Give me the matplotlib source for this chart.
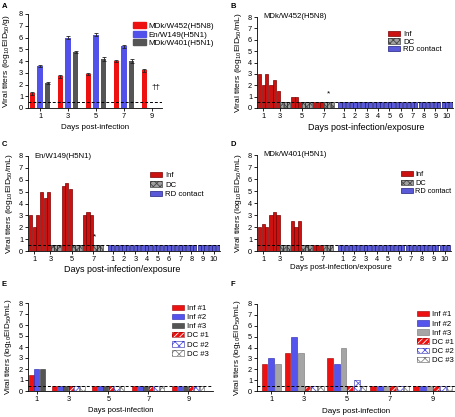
import matplotlib
matplotlib.use('Agg')
import matplotlib.pyplot as plt
import numpy as np
from matplotlib.patches import Patch

plt.rcParams['font.family'] = ['Liberation Sans', 'DejaVu Sans']
plt.rcParams['mathtext.fontset'] = 'custom'
plt.rcParams['mathtext.rm'] = 'Liberation Sans'
plt.rcParams['mathtext.it'] = 'Liberation Sans:italic'
plt.rcParams['mathtext.bf'] = 'Liberation Sans:bold'
plt.rcParams['mathtext.default'] = 'regular'
plt.rcParams['hatch.linewidth'] = 0.6
plt.rcParams['axes.linewidth'] = 0.6

# ---------------- data ----------------
# Panel A
days_a = [1, 3, 5, 7, 9]
strains_a = ['MDk/W452(H5N8)', 'En/W149(H5N1)', 'MDk/W401(H5N1)']
titer_w452 = [1.25, 2.7, 2.9, 4.0, 3.2]
err_w452 = [0.12, 0.15, 0.08, 0.1, 0.15]
titer_w149 = [3.6, 6.0, 6.25, 5.25, np.nan]
err_w149 = [0.08, 0.15, 0.15, 0.15, np.nan]
titer_w401 = [2.15, 4.8, 4.15, 4.0, np.nan]
err_w401 = [0.08, 0.08, 0.15, 0.15, np.nan]

# Panels B-D: infected (days 1,3,5,7), direct contact (days 3,5,7), RD contact (days 1-10)
inf_days = ['1', '3', '5', '7']
rd_days = ['1', '2', '3', '4', '5', '6', '7', '8', '9', '10']

b_inf = [[3.0, 2.0, 3.0], [2.0, 2.5, 1.5], [1.0, 1.0, 0.5], [0.5, 0.5, 0.5]]
b_dc = [[0.5, 0.5, 0.5], [0.5, 0.5, 0.5], [0.5, 0.5, 0.5]]
b_rd = [[0.5, 0.5, 0.5]] * 10

c_inf = [[3.0, 2.0, 3.0], [5.0, 4.5, 5.0], [5.5, 5.75, 5.25], [3.0, 3.25, 3.0]]
c_dc = [[0.5, 0.5, 0.5], [0.5, 0.5, 0.5], [0.5, 0.5, 0.5]]
c_rd = [[0.5, 0.5, 0.5]] * 10

d_inf = [[2.0, 2.25, 2.0], [3.0, 3.25, 3.0], [2.5, 2.0, 2.5], [0.5, 0.5, 0.5]]
d_dc = [[0.5, 0.5, 0.5], [0.5, 0.5, 0.5], [0.5, 0.5, 0.5]]
d_rd = [[0.5, 0.5, 0.5]] * 10

# Panels E-F: individual birds, days 1,3,5,7,9
days_ef = ['1', '3', '5', '7', '9']
e_inf1 = [1.5, 0.5, 0.5, 0.5, 0.5]
e_inf2 = [2.0, 0.5, 0.5, 0.5, 0.5]
e_inf3 = [2.0, 0.5, 0.5, 0.5, 0.5]
e_dc1 = [0.5, 0.5, 0.5, 0.5]
e_dc2 = [0.5, 0.5, 0.5, 0.5]
e_dc3 = [0.5, 0.5, 0.5, 0.5]

f_inf1 = [2.5, 3.5, 3.0, 0.5, 0.5]
f_inf2 = [3.0, 5.0, 2.5, 0.5, 0.5]
f_inf3 = [2.5, 3.5, 4.0, 0.5, 0.5]
f_dc1 = [0.5, 0.5, 0.5, 0.5]
f_dc2 = [0.5, 1.0, 0.5, 0.5]
f_dc3 = [0.5, 0.5, 0.5, 0.5]

detect_limit = 0.5

# ---------------- figure ----------------
W, H = 456, 417
fig = plt.figure(figsize=(W / 100, H / 100), dpi=100)

TFS = 5.3


def ax_px(l, r, t, b):
    return fig.add_axes([l / W, 1 - b / H, (r - l) / W, (b - t) / H])


def style(ax, l, r, t, b, ylabel, xlabel, ylab_x, xlab_top, yfs, xfs, xlab_cx=None):
    for s in ['top', 'right']:
        ax.spines[s].set_visible(False)
    ax.set_ylim(0, 8)
    ax.set_yticks(range(0, 9))
    ax.tick_params(length=2, width=0.6, labelsize=TFS, pad=1.5)
    ax.set_ylabel(ylabel, fontsize=yfs)
    ax.set_xlabel(xlabel, fontsize=xfs)
    ax.yaxis.set_label_coords((ylab_x - l) / (r - l), 0.5)
    cx = 0.5 if xlab_cx is None else (xlab_cx - l) / (r - l)
    ax.xaxis.set_label_coords(cx, -(xlab_top - b) / (b - t))
    ax.axhline(detect_limit, color='black', lw=0.7, ls=(0, (3, 2)), zorder=5)


def panel_label(x, y, s):
    fig.text(x / W, 1 - y / H, s, fontsize=5.5, fontweight='bold', va='center', ha='left')


def legend_at(ax, l, r, t, b, xy, handles, labels, fs, ls):
    ax.legend(handles, labels, loc='upper left',
              bbox_to_anchor=((xy[0] - l) / (r - l), 1 - (xy[1] - t) / (b - t)),
              fontsize=fs, frameon=False, handlelength=1.6, handleheight=0.7,
              handletextpad=0.35, borderaxespad=0, borderpad=0, labelspacing=ls)


ylab_g = r'Viral titers (log$_{10}$EID$_{50}$/g)'
ylab_ml = r'Viral titers (log$_{10}$EID$_{50}$/mL)'

# ---------- Panel A ----------
l, r, t, b = 28, 162, 14, 108
axA = ax_px(l, r, t, b)
x = np.array(days_a, dtype=float)
off = 0.54
bw = 0.4
ekw = dict(elinewidth=0.6, capsize=1.2, capthick=0.6, ecolor='#222222')
axA.bar(x - off, titer_w452, bw, yerr=err_w452, color='#ee1111', error_kw=ekw)
axA.bar(x, titer_w149, bw, yerr=err_w149, color='#5252ea', error_kw=ekw)
axA.bar(x + off, titer_w401, bw, yerr=err_w401, color='#555555', error_kw=ekw)
axA.set_xlim(1 - 12 / 14, 1 + 122 / 14)
axA.set_xticks(days_a)
axA.set_xticklabels([str(d) for d in days_a])
style(axA, l, r, t, b, ylab_g, 'Days post-infection', ylab_x=12.5, xlab_top=124, yfs=6.1, xfs=5.8)
axA.text(9.28, 1.45, '\u2020\u2020', fontsize=6, ha='center', va='bottom')
legend_at(axA, l, r, t, b, (133, 22.5),
          [Patch(color='#ee1111'), Patch(color='#5252ea'), Patch(color='#555555')],
          strains_a, 5.8, 0.1)
panel_label(2, 6, 'A')

# ---------- Panels B-D ----------
RED_I = '#cc1111'
RED_E = '#7a0000'
GRAY_F = '#a0a0a0'
GRAY_H = '#444444'
BLUE_F = '#5a5ad8'
BLUE_E = '#1e1e80'


def bar_dc(ax, xs, hs, w):
    ax.bar(xs, hs, w, color=GRAY_F, edgecolor=GRAY_H, hatch='xxxxx', linewidth=0)
    ax.bar(xs, hs, w, fill=False, edgecolor='#333333', linewidth=0.5)


def panel_bcd(l, r, t, b, inf, dc, rd, title, star_y=None, star_dx=0.0, g=0.2, gap_rd=1.2,
              g_rd=0.25, mleft=0.3, mright=0.3, leg_xy=(388, 30), xfs=6.5, yfs=6.1, lfs=5.5,
              lsp=0.0, xlab_top=None, xlab_cx=None):
    ax = ax_px(l, r, t, b)
    w = 0.92
    pos = 0.0
    ticks = []
    inf_x = []
    dc_x = []
    inf_x.append(pos + np.arange(3) + 0.5)
    ticks.append(pos + 1.5)
    pos += 3
    for k in range(len(dc)):
        pos += g
        inf_x.append(pos + np.arange(3) + 0.5)
        ticks.append(pos + 3)
        dc_x.append(pos + 3 + np.arange(3) + 0.5)
        pos += 6
    pos += gap_rd
    rd_x = []
    for k in range(len(rd)):
        if k > 0:
            pos += g_rd
        rd_x.append(pos + np.arange(3) + 0.5)
        ticks.append(pos + 1.5)
        pos += 3
    for xs, hs in zip(inf_x, inf):
        ax.bar(xs, hs, w, color=RED_I, edgecolor=RED_E, linewidth=0.5)
    for xs, hs in zip(dc_x, dc):
        bar_dc(ax, xs, hs, w)
    for xs, hs in zip(rd_x, rd):
        ax.bar(xs, hs, w, color=BLUE_F, edgecolor=BLUE_E, linewidth=0.5)
    ax.set_xlim(-mleft, pos + mright)
    ax.set_xticks(ticks)
    ax.set_xticklabels(inf_days + rd_days)
    style(ax, l, r, t, b, ylab_ml, 'Days post-infection/exposure', ylab_x=l - 13,
          xlab_top=xlab_top, yfs=yfs, xfs=xfs, xlab_cx=xlab_cx)
    ax.text(0.035, 1.0, title, transform=ax.transAxes, fontsize=5.6, ha='left', va='center')
    if star_y is not None:
        ax.text(dc_x[-1][1] + star_dx, star_y, '*', fontsize=6, ha='center', va='center')
    hi = Patch(facecolor=RED_I, edgecolor=RED_E, linewidth=0.5)
    hd = (Patch(facecolor=GRAY_F, edgecolor=GRAY_H, hatch='xxxxx', linewidth=0),
          Patch(fill=False, edgecolor='#333333', linewidth=0.5))
    hr = Patch(facecolor=BLUE_F, edgecolor=BLUE_E, linewidth=0.5)
    legend_at(ax, l, r, t, b, leg_xy, [hi, hd, hr], ['Inf', 'DC', 'RD contact'], lfs, lsp)
    return ax


panel_bcd(257, 453, 17, 108, b_inf, b_dc, b_rd, 'MDk/W452(H5N8)', star_y=1.25, leg_xy=(388, 30.5),
          xfs=6.5, yfs=6.1, lfs=5.6, lsp=0.02, xlab_top=123.5, xlab_cx=366)
panel_label(231, 6, 'B')
panel_bcd(28, 220, 156, 251, c_inf, c_dc, c_rd, 'En/W149(H5N1)', star_y=1.2, star_dx=-1.0,
          leg_xy=(150, 172), xfs=6.5, yfs=6.1, lfs=5.6, lsp=0.25, xlab_top=265.5, xlab_cx=122)
panel_label(2, 144, 'C')
panel_bcd(257, 451, 155, 251, d_inf, d_dc, d_rd, 'MDk/W401(H5N1)', star_y=None, leg_xy=(401, 171),
          xfs=5.7, yfs=6.0, lfs=5.3, lsp=0.2, xlab_top=264, xlab_cx=341)
panel_label(231, 144, 'D')

# ---------- Panels E-F ----------
C_R = '#ee1111'
C_RE = '#990000'
C_B = '#5555ee'
C_BE = '#2222aa'


def panel_ef(l, r, t, b, infs, dcs, inf_cols, dc_styles, g, mleft, mright, leg_xy, xfs, xlab_top):
    ax = ax_px(l, r, t, b)
    w = 0.85
    pos = 0.0
    ticks = []
    inf_x = [pos + np.arange(3) + 0.5]
    ticks.append(pos + 1.5)
    dc_x = []
    pos += 3
    for k in range(len(dcs[0])):
        pos += g
        inf_x.append(pos + np.arange(3) + 0.5)
        ticks.append(pos + 3)
        dc_x.append(pos + 3 + np.arange(3) + 0.5)
        pos += 6
    inf_x = np.array(inf_x)
    dc_x = np.array(dc_x)
    handles = []
    for j in range(3):
        fc, ec = inf_cols[j]
        ax.bar(inf_x[:, j], infs[j], w, color=fc, edgecolor=ec, linewidth=0.4)
        handles.append(Patch(facecolor=fc, edgecolor=ec, linewidth=0.4))
    for j in range(3):
        fc, hc, hatch, ec = dc_styles[j]
        ax.bar(dc_x[:, j], dcs[j], w, color=fc, edgecolor=hc, hatch=hatch, linewidth=0)
        ax.bar(dc_x[:, j], dcs[j], w, fill=False, edgecolor=ec, linewidth=0.4)
        handles.append((Patch(facecolor=fc, edgecolor=hc, hatch=hatch, linewidth=0),
                        Patch(fill=False, edgecolor=ec, linewidth=0.4)))
    ax.set_xlim(-mleft, pos + mright)
    ax.set_xticks(ticks)
    ax.set_xticklabels(days_ef)
    style(ax, l, r, t, b, ylab_ml, 'Days post-infection', ylab_x=l - 14, xlab_top=xlab_top,
          yfs=5.9, xfs=xfs)
    legend_at(ax, l, r, t, b, leg_xy, handles,
              ['Inf #1', 'Inf #2', 'Inf #3', 'DC #1', 'DC #2', 'DC #3'], 5.6, 0.22)
    return ax


dc_styles = [(C_R, 'white', '//////', C_RE), ('white', C_B, 'xxxx', C_BE), ('white', '#888888', 'xxxx', '#555555')]
panel_ef(28, 213, 303, 391, [e_inf1, e_inf2, e_inf3], [e_dc1, e_dc2, e_dc3],
         [(C_R, C_RE), (C_B, C_BE), ('#555555', '#333333')], dc_styles,
         g=1.3, mleft=0.1, mright=1.5, leg_xy=(172, 304.5), xfs=5.5, xlab_top=407)
panel_label(2, 284, 'E')
panel_ef(257, 455, 304, 391, [f_inf1, f_inf2, f_inf3], [f_dc1, f_dc2, f_dc3],
         [(C_R, C_RE), (C_B, C_BE), ('#a5a5a5', '#707070')], dc_styles,
         g=0.45, mleft=0.6, mright=0.3, leg_xy=(417, 311), xfs=5.8, xlab_top=408)
panel_label(231, 284, 'F')

fig.savefig('out.png', dpi=100)
